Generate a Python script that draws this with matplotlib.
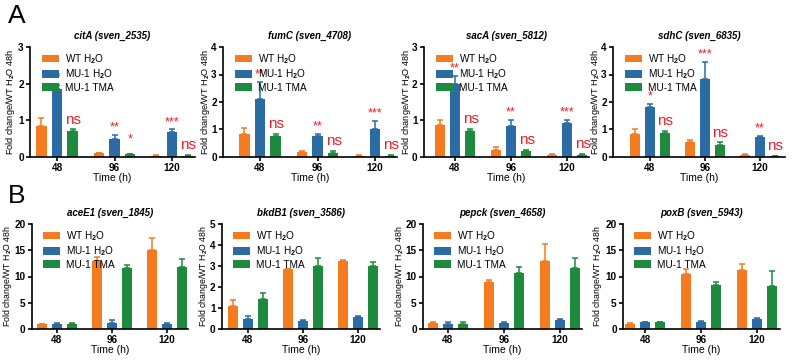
import numpy as np
import matplotlib
matplotlib.use('Agg')
import matplotlib.pyplot as plt

plt.rcParams['font.family'] = ['Liberation Sans', 'DejaVu Sans']
plt.rcParams['font.weight'] = 'bold'
plt.rcParams['mathtext.fontset'] = 'custom'
plt.rcParams['mathtext.rm'] = 'Liberation Sans:bold'
plt.rcParams['mathtext.it'] = 'Liberation Sans:italic:bold'
plt.rcParams['mathtext.bf'] = 'Liberation Sans:bold'

# data
times = ['48', '96', '120']
series = ['WT H$_2$O', 'MU-1 H$_2$O', 'MU-1 TMA']
colors = ['#f47b20', '#2c6ca4', '#1e8a3e']

# panel A
citA_mean = [[0.85, 0.10, 0.04], [1.85, 0.48, 0.67], [0.70, 0.07, 0.04]]
citA_err = [[0.20, 0.02, 0.01], [0.12, 0.13, 0.08], [0.05, 0.02, 0.01]]
citA_sig = [['**', '**', '***'], ['ns', '*', 'ns']]

fumC_mean = [[0.85, 0.17, 0.05], [2.12, 0.77, 1.00], [0.78, 0.16, 0.05]]
fumC_err = [[0.22, 0.03, 0.03], [0.60, 0.08, 0.32], [0.07, 0.05, 0.03]]
fumC_sig = [['**', '**', '***'], ['ns', 'ns', 'ns']]

sacA_mean = [[0.88, 0.20, 0.05], [2.00, 0.85, 0.92], [0.70, 0.15, 0.05]]
sacA_err = [[0.13, 0.06, 0.02], [0.22, 0.16, 0.10], [0.07, 0.04, 0.04]]
sacA_sig = [['**', '**', '***'], ['ns', 'ns', 'ns']]

sdhC_mean = [[0.85, 0.55, 0.07], [1.83, 2.85, 0.72], [0.87, 0.45, 0.03]]
sdhC_err = [[0.18, 0.07, 0.03], [0.10, 0.60, 0.06], [0.08, 0.08, 0.01]]
sdhC_sig = [['*', '***', '**'], ['ns', 'ns', 'ns']]

# panel B
aceE1_mean = [[0.9, 13.0, 15.0], [1.0, 1.1, 1.0], [0.95, 11.7, 11.9]]
aceE1_err = [[0.1, 0.8, 2.4], [0.15, 0.6, 0.2], [0.2, 0.5, 1.4]]

bkdB1_mean = [[1.10, 2.85, 3.22], [0.50, 0.40, 0.57], [1.42, 3.00, 2.98]]
bkdB1_err = [[0.30, 0.03, 0.07], [0.10, 0.04, 0.05], [0.28, 0.40, 0.22]]

pepck_mean = [[1.1, 8.9, 13.0], [1.0, 1.2, 1.7], [1.0, 10.6, 11.6]]
pepck_err = [[0.15, 0.4, 3.1], [0.35, 0.1, 0.25], [0.35, 1.3, 1.9]]

poxB_mean = [[1.0, 10.5, 11.2], [1.3, 1.35, 2.0], [1.3, 8.3, 8.2]]
poxB_err = [[0.05, 1.0, 1.1], [0.1, 0.1, 0.15], [0.1, 0.6, 2.8]]

W, H = 794, 361
fig = plt.figure(figsize=(W / 100, H / 100), dpi=100)


def panel(title, mean, err, ymax, yticks, px, ytop, yzero, sig=None, ylab_size=6.6):
    # px: ylabel centre, axis left, first tick, last tick, axis right (pixels)
    lab_x, left, t0, t2, right = px
    sp = (t2 - t0) / 2
    ax = fig.add_axes([left / W, (H - yzero) / H, (right - left) / W, (yzero - ytop) / H])
    x = np.arange(3)
    pitch, bw = 0.27, 0.19
    for i in range(3):
        xi = x + (i - 1) * pitch
        ax.bar(xi, mean[i], bw, color=colors[i], label=series[i], zorder=2)
        ax.errorbar(xi, mean[i], yerr=[np.zeros(3), err[i]], fmt='none',
                    ecolor=colors[i], elinewidth=1.1, capsize=2.5, capthick=1.1, zorder=1)
    if sig:
        for g in range(3):
            for k, i in enumerate([1, 2]):
                lab = sig[k][g]
                top = mean[i][g] + err[i][g]
                if lab == 'ns':
                    ax.annotate(lab, (x[g] + (i - 1) * pitch, top), xytext=(0.5, 2),
                                textcoords='offset points', ha='center', va='bottom',
                                color='#ee1c25', fontsize=11, fontweight='normal',
                                annotation_clip=False)
                else:
                    off = 1 if i == 1 else 6
                    ax.annotate(lab, (x[g] + (i - 1) * pitch, top), xytext=(0, off),
                                textcoords='offset points', ha='center', va='bottom',
                                color='#ee1c25', fontsize=9, fontweight='normal',
                                annotation_clip=False)
    ax.set_xlim(-(t0 - left) / sp, 2 + (right - t2) / sp)
    ax.set_ylim(0, ymax)
    ax.set_yticks(yticks)
    ax.set_xticks(x)
    ax.set_xticklabels(times)
    ax.tick_params(labelsize=7.2, width=1.2, length=3, pad=1.5)
    for s in ['top', 'right']:
        ax.spines[s].set_visible(False)
    for s in ['left', 'bottom']:
        ax.spines[s].set_linewidth(1.2)
    ax.set_xlabel('Time (h)', fontsize=7.5, labelpad=0)
    ax.set_ylabel('Fold change/WT H$_2$O 48h', fontsize=ylab_size, va='center')
    ax.yaxis.set_label_coords((lab_x - left) / (right - left), 0.5)
    ax.set_title(title, fontsize=7, fontstyle='italic', fontweight='bold', pad=6)
    ax.legend(loc='upper left', bbox_to_anchor=(0.04, 1.0), frameon=False,
              handlelength=1.7, handleheight=0.8, labelspacing=0.15,
              borderpad=0, handletextpad=0.6,
              prop={'weight': 'normal', 'size': 7.2})
    return ax


panel('citA (sven_2535)', citA_mean, citA_err, 3, [0, 1, 2, 3], (11, 30, 57, 172, 195), 47, 157, citA_sig)
panel('fumC (sven_4708)', fumC_mean, fumC_err, 4, [0, 1, 2, 3, 4], (205, 223, 260, 375, 397), 47, 157, fumC_sig)
panel('sacA (sven_5812)', sacA_mean, sacA_err, 3, [0, 1, 2, 3], (407, 424, 455, 567, 589), 47, 157, sacA_sig)
panel('sdhC (sven_6835)', sdhC_mean, sdhC_err, 4, [0, 1, 2, 3, 4], (596, 613, 650, 760, 785), 47, 157, sdhC_sig)

panel('aceE1 (sven_1845)', aceE1_mean, aceE1_err, 20, [0, 5, 10, 15, 20], (8, 32, 57, 167, 188), 224, 329, ylab_size=6.3)
panel('bkdB1 (sven_3586)', bkdB1_mean, bkdB1_err, 5, [0, 1, 2, 3, 4, 5], (203, 222, 248, 358, 380), 224, 329, ylab_size=6.3)
panel('pepck (sven_4658)', pepck_mean, pepck_err, 20, [0, 5, 10, 15, 20], (399, 423, 448, 560, 582), 224, 329, ylab_size=6.3)
panel('poxB (sven_5943)', poxB_mean, poxB_err, 20, [0, 5, 10, 15, 20], (598, 623, 645, 757, 780), 224, 329, ylab_size=6.3)

fig.text(8 / W, 1 - 16 / H, 'A', fontsize=19, fontweight='normal', va='center')
fig.text(8 / W, 1 - 196 / H, 'B', fontsize=19, fontweight='normal', va='center')

fig.savefig('out.png', dpi=100)
